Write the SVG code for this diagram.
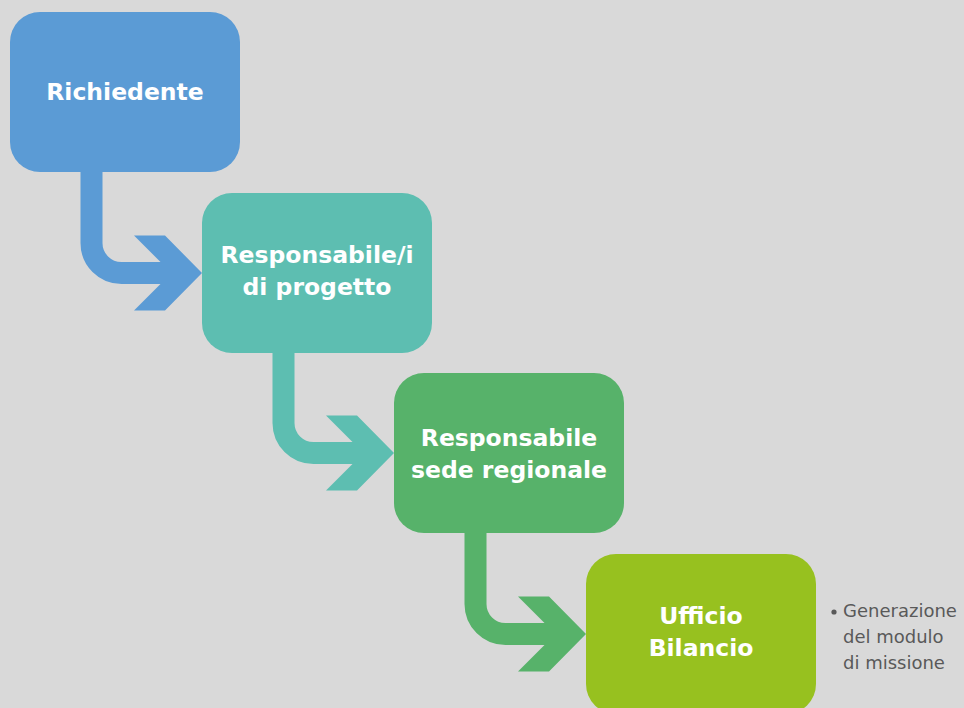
<svg xmlns="http://www.w3.org/2000/svg" width="964" height="708" viewBox="0 0 964 708">
  <style>
    .node-label { font-family: "DejaVu Sans", "Liberation Sans", sans-serif; font-weight: bold; font-size: 23.5px; fill: #ffffff; text-anchor: middle; }
    .note { font-family: "DejaVu Sans", "Liberation Sans", sans-serif; font-size: 18px; fill: #595959; }
    .shaft { fill: none; stroke-width: 22; }
  </style>
  <rect x="0" y="0" width="964" height="708" fill="#d9d9d9"/>

  <!-- bent connectors: shaft + chevron head -->
  <g id="connectors">
    <g id="arrow-1">
      <path class="shaft" stroke="#5b9bd5" d="M91.5 165 V243 A30 30 0 0 0 121.5 273 H172"/>
      <polygon fill="#5b9bd5" points="134,235.5 165,235.5 202,273 165,310.5 134,310.5 171.5,273"/>
    </g>
    <g id="arrow-2">
      <path class="shaft" stroke="#5dbeb1" d="M283.5 345 V423 A30 30 0 0 0 313.5 453 H364"/>
      <polygon fill="#5dbeb1" points="326,415.5 357,415.5 394,453 357,490.5 326,490.5 363.5,453"/>
    </g>
    <g id="arrow-3">
      <path class="shaft" stroke="#57b26a" d="M475.5 526 V604 A30 30 0 0 0 505.5 634 H556"/>
      <polygon fill="#57b26a" points="518,596.5 549,596.5 586,634 549,671.5 518,671.5 555.5,634"/>
    </g>
  </g>

  <g id="node-richiedente">
    <rect x="10" y="12" width="230" height="160" rx="30" ry="30" fill="#5b9bd5"/>
    <text class="node-label" x="125" y="100">Richiedente</text>
  </g>

  <g id="node-responsabili-progetto">
    <rect x="202" y="193" width="230" height="160" rx="30" ry="30" fill="#5dbeb1"/>
    <text class="node-label" x="317" y="263">Responsabile/i</text>
    <text class="node-label" x="317" y="295">di progetto</text>
  </g>

  <g id="node-responsabile-sede">
    <rect x="394" y="373" width="230" height="160" rx="30" ry="30" fill="#57b26a"/>
    <text class="node-label" x="509" y="446">Responsabile</text>
    <text class="node-label" x="509" y="478">sede regionale</text>
  </g>

  <g id="node-ufficio-bilancio">
    <rect x="586" y="554" width="230" height="160" rx="30" ry="30" fill="#97c11f"/>
    <text class="node-label" x="701" y="624">Ufficio</text>
    <text class="node-label" x="701" y="656">Bilancio</text>
  </g>

  <g id="note-ufficio-bilancio">
    <circle cx="834" cy="612" r="2.6" fill="#595959"/>
    <text class="note" x="843" y="617">Generazione</text>
    <text class="note" x="843" y="643">del modulo</text>
    <text class="note" x="843" y="669">di missione</text>
  </g>
</svg>
